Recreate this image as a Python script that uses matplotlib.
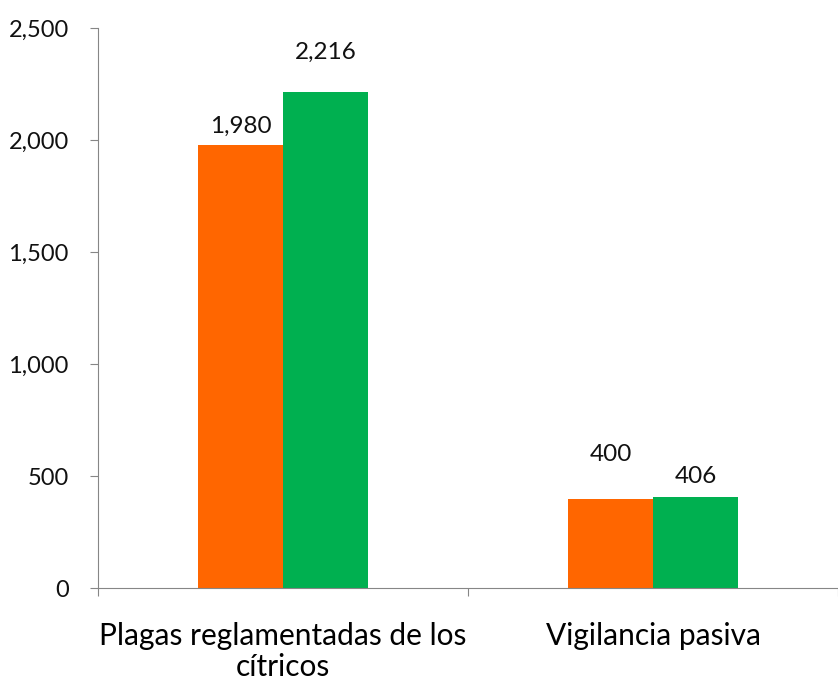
import matplotlib
matplotlib.use("Agg")
import matplotlib.pyplot as plt
from matplotlib.ticker import FuncFormatter

categories = ["Plagas reglamentadas de los\ncítricos", "Vigilancia pasiva"]
serie_a = [1980, 400]
serie_b = [2216, 406]
colors = ["#FF6600", "#00B050"]
# label offset above each bar, in pixels (Excel staggered them)
offsets_a = [8, 34]
offsets_b = [29, 10]

plt.rcParams["font.family"] = ["Lato", "DejaVu Sans"]

fig = plt.figure(figsize=(8.38, 6.84), dpi=100)
ax = fig.add_axes([0.117, 0.140, 0.883, 0.819])

w = 0.23
x = range(len(categories))
bars_a = ax.bar([i - w / 2 for i in x], serie_a, width=w, color=colors[0])
bars_b = ax.bar([i + w / 2 for i in x], serie_b, width=w, color=colors[1])

for bars, vals, offs in ((bars_a, serie_a, offsets_a), (bars_b, serie_b, offsets_b)):
    for b, v, o in zip(bars, vals, offs):
        ax.annotate(f"{v:,}", (b.get_x() + b.get_width() / 2, v),
                    xytext=(0, o * 0.72), textcoords="offset points",
                    ha="center", va="bottom", fontsize=17.5, color="#111111")

ax.set_xlim(-0.5, 1.5)
ax.set_ylim(0, 2500)
ax.set_yticks(range(0, 2501, 500))
ax.yaxis.set_major_formatter(FuncFormatter(lambda v, p: f"{int(v):,}"))
ax.set_xticks([-0.5, 0.5, 1.5])
ax.set_xticklabels([])
ax.set_xticks(list(x), minor=True)
ax.set_xticklabels(categories, minor=True, fontsize=21.5, linespacing=1.15)
ax.tick_params(axis="x", which="minor", length=0, pad=24)
ax.tick_params(axis="x", which="major", length=6, color="#868686")
ax.tick_params(axis="y", length=6, color="#868686", labelsize=17, pad=15,
               labelcolor="#111111")

for s in ("top", "right"):
    ax.spines[s].set_visible(False)
for s in ("left", "bottom"):
    ax.spines[s].set_color("#868686")

fig.savefig("out.png", dpi=100)
